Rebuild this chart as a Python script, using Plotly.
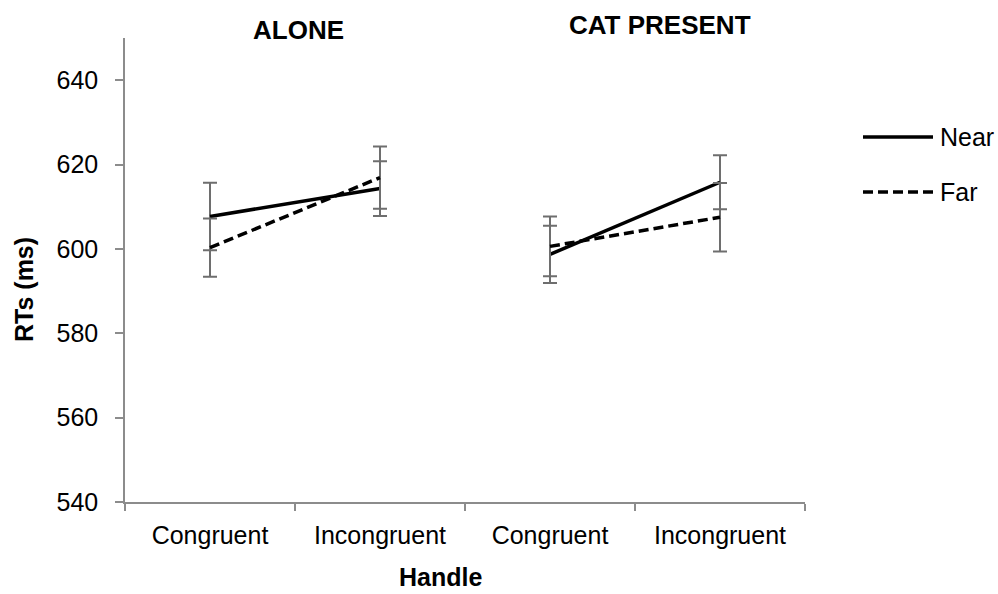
import plotly.graph_objects as go

categories = ["Congruent", "Incongruent", "Congruent", "Incongruent"]
panels = ["ALONE", "CAT PRESENT"]
near_vals = [607.7, 614.3, 598.7, 615.8]
near_err = [8.0, 6.5, 6.8, 6.4]
far_vals = [600.3, 616.9, 600.6, 607.5]
far_err = [6.9, 7.4, 7.1, 8.1]
y_ticks = [540, 560, 580, 600, 620, 640]

FONT = "Liberation Sans, Arial, sans-serif"
GRAY = "#6e6e6e"
AX = "#8c8c8c"
FS = 25

def with_gap(vals):
    return vals[:2] + [None] + vals[2:]

xs = [0, 1, None, 2, 3]

fig = go.Figure()
for name, vals, errs, dash in [("Near", near_vals, near_err, "solid"),
                                ("Far", far_vals, far_err, "10px,5px")]:
    fig.add_trace(go.Scatter(
        x=xs, y=with_gap(vals), mode="lines", name=name,
        line=dict(color="black", width=3.5, dash=dash),
        connectgaps=False,
        error_y=dict(type="data", array=with_gap(errs), visible=True,
                     color=GRAY, thickness=2, width=7),
        showlegend=False,
    ))

fig.update_layout(
    width=998, height=594,
    margin=dict(l=125, r=193, t=38, b=92),
    paper_bgcolor="white", plot_bgcolor="white",
    font=dict(family=FONT, size=FS, color="black"),
    xaxis=dict(
        range=[-0.5, 3.5], tickmode="array", tickvals=[0, 1, 2, 3],
        ticktext=categories, ticks="", showgrid=False, zeroline=False,
        showline=True, linecolor=AX, linewidth=1.5,
        ticklabelstandoff=10, tickfont=dict(size=FS),
        minor=dict(ticks="outside", tick0=-0.5, dtick=1, ticklen=7,
                   tickcolor=AX, tickwidth=1.5, showgrid=False),
    ),
    yaxis=dict(
        range=[540, 650], tickmode="array", tickvals=y_ticks,
        ticks="outside", ticklen=8, tickcolor=AX, tickwidth=1.5,
        showgrid=False, zeroline=False, showline=True,
        linecolor=AX, linewidth=1.5, ticklabelstandoff=12,
        tickfont=dict(size=FS),
    ),
)

# axis titles
fig.add_annotation(x=(440 - 125) / 680, y=-(577 - 502) / 464, xref="paper", yref="paper",
                   text="<b>Handle</b>", showarrow=False, font=dict(size=FS),
                   xanchor="center", yanchor="middle")
fig.add_annotation(x=-(125 - 24) / 680, y=(502 - 290) / 464, xref="paper", yref="paper",
                   text="<b>RTs (ms)</b>", showarrow=False, font=dict(size=FS),
                   textangle=-90, xanchor="center", yanchor="middle")

# panel titles
fig.add_annotation(x=(298 - 125) / 680, y=(502 - 30) / 464, xref="paper", yref="paper",
                   text="<b>" + panels[0] + "</b>", showarrow=False,
                   font=dict(size=26), xanchor="center", yanchor="middle")
fig.add_annotation(x=(660 - 125) / 680, y=(502 - 25) / 464, xref="paper", yref="paper",
                   text="<b>" + panels[1] + "</b>", showarrow=False,
                   font=dict(size=26), xanchor="center", yanchor="middle")

# legend drawn manually
leg_items = [("Near", "solid", (502 - 137) / 464), ("Far", "10px,5px", (502 - 192) / 464)]
for name, dash, ly in leg_items:
    fig.add_shape(type="line", xref="paper", yref="paper",
                  x0=(863 - 125) / 680, x1=(933 - 125) / 680, y0=ly, y1=ly,
                  line=dict(color="black", width=3.5, dash=dash))
    fig.add_annotation(x=(938 - 125) / 680, y=ly, xref="paper", yref="paper",
                       text=name, showarrow=False, xanchor="left",
                       yanchor="middle", font=dict(size=FS))

fig.write_html("out.html")
